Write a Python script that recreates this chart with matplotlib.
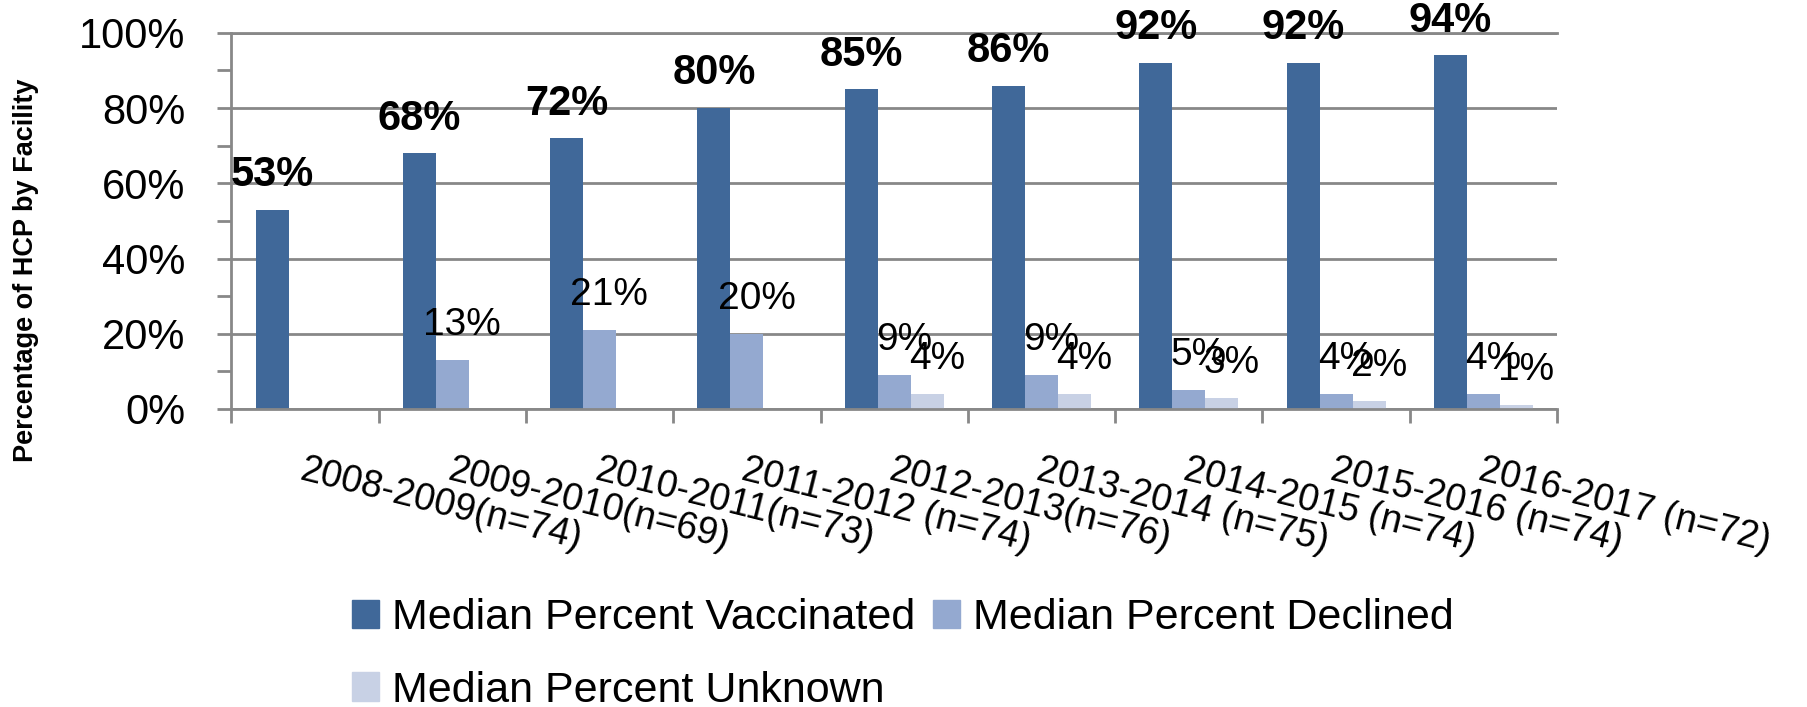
import numpy as np
import matplotlib
matplotlib.use("Agg")
import matplotlib.pyplot as plt
from matplotlib.patches import Patch
from matplotlib.ticker import MultipleLocator, PercentFormatter

plt.rcParams['font.family'] = ['Liberation Sans', 'DejaVu Sans']

seasons = ["2008-2009(n=74)", "2009-2010(n=69)", "2010-2011(n=73)", "2011-2012 (n=74)",
           "2012-2013(n=76)", "2013-2014 (n=75)", "2014-2015 (n=74)", "2015-2016 (n=74)",
           "2016-2017 (n=72)"]
vaccinated = [53, 68, 72, 80, 85, 86, 92, 92, 94]
declined = [None, 13, 21, 20, 9, 9, 5, 4, 4]
unknown = [None, None, None, None, 4, 4, 3, 2, 1]
series_names = ["Median Percent Vaccinated", "Median Percent Declined", "Median Percent Unknown"]
series_colors = ["#406899", "#94A9D0", "#C8D1E5"]

fig = plt.figure(figsize=(18.08, 7.07), dpi=100)
ax = fig.add_axes([0.128, 0.4215, 0.7332, 0.532])

x = np.arange(len(seasons))
w = 0.224
grid_col = "#888888"

ax.set_axisbelow(True)
ax.yaxis.grid(True, color=grid_col, linewidth=2)

all_series = [vaccinated, declined, unknown]
for k, vals in enumerate(all_series):
    h = [v / 100 if v is not None else 0 for v in vals]
    ax.bar(x + (k - 1) * w, h, width=w, color=series_colors[k], zorder=2)
    for i, v in enumerate(vals):
        if v is None:
            continue
        if k == 0:
            ax.annotate(f"{v}%", (x[i] + (k - 1) * w, v / 100), xytext=(0, 17),
                        textcoords="offset points", ha="center", va="baseline",
                        fontsize=30, fontweight="bold")
        else:
            ax.annotate(f"{v}%", (x[i] + (k - 1) * w, v / 100), xytext=(7, 18),
                        textcoords="offset points", ha="center", va="baseline",
                        fontsize=28)

ax.set_xlim(-0.5, len(seasons) - 0.5)
ax.set_ylim(0, 1)
ax.yaxis.set_major_locator(MultipleLocator(0.2))
ax.yaxis.set_minor_locator(MultipleLocator(0.1))
ax.yaxis.set_major_formatter(PercentFormatter(1.0, decimals=0))
ax.tick_params(axis="y", which="both", length=10, width=2, color=grid_col,
               labelsize=30, pad=23)

ax.set_xticks(np.arange(-0.5, len(seasons), 1.0))
ax.set_xticklabels([])
ax.tick_params(axis="x", length=10, width=2, color=grid_col)
for i, lab in enumerate(seasons):
    ax.annotate(lab, (x[i], 0), xytext=(0, -31), textcoords="offset points",
                ha="left", va="top", rotation=-14, rotation_mode="anchor",
                fontsize=27, annotation_clip=False)

ax.spines["right"].set_visible(False)
for s in ["left", "bottom", "top"]:
    ax.spines[s].set_color(grid_col)
    ax.spines[s].set_linewidth(2)

fig.text(0.0144, 1 - 270 / 707, "Percentage of HCP by Facility", rotation=90,
         ha="center", va="center", fontsize=19.5, fontweight="bold")

handles = [Patch(color=c) for c in series_colors]
order = [0, 2, 1]
fig.legend([handles[i] for i in order], [series_names[i] for i in order],
           loc="upper left", bbox_to_anchor=(352 / 1808, 1 - 598 / 707), ncol=2,
           frameon=False, fontsize=31, handlelength=0.63, handleheight=0.63,
           handletextpad=0.3, columnspacing=0.4, labelspacing=0.76, borderpad=0,
           borderaxespad=0)

fig.savefig("out.png", dpi=100)
